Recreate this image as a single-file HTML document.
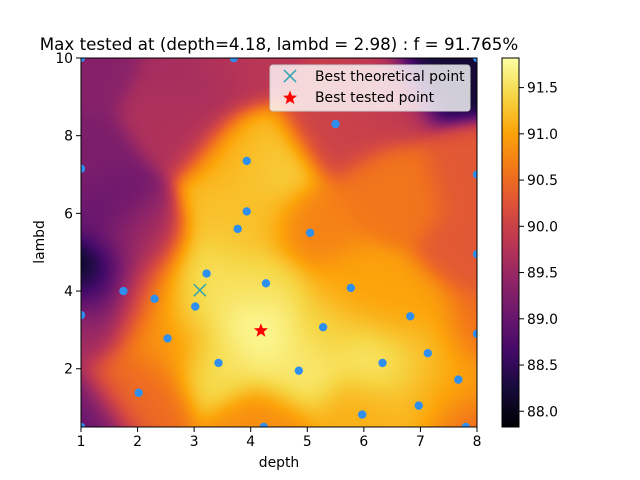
<!DOCTYPE html>
<html><head><meta charset="utf-8"><style>
body{margin:0;background:#fff;font-family:"DejaVu Sans","Liberation Sans",sans-serif}
#wrap{position:relative;width:640px;height:480px}
</style></head><body>
<div id="wrap">
<canvas id="heat" width="396" height="369" style="position:absolute;left:81px;top:58px"></canvas>
<canvas id="cbar" width="17" height="369" style="position:absolute;left:502px;top:58px"></canvas>
<svg id="svg" width="640" height="480" style="position:absolute;left:0;top:0" font-family="DejaVu Sans, Liberation Sans, sans-serif"></svg>
</div>
<script>
const ptsDepth=[1,3.7,5.5,3.93,1,8,3.93,3.77,5.05,8,3.22,1.75,4.27,5.77,2.3,3.02,1,6.82,5.28,2.53,8,3.43,6.33,7.13,4.85,7.67,2.02,6.97,5.97,4.23,7.8,1,8];
const ptsLambd=[10,10,8.3,7.35,7.15,7,6.05,5.6,5.5,4.95,4.45,4.0,4.2,4.08,3.8,3.6,3.38,3.35,3.07,2.78,2.9,2.15,2.15,2.4,1.95,1.72,1.38,1.05,0.82,0.5,0.5,0.5,10];
const ptsF=[89.3,89.8,90.0,91.0,89.2,90.3,91.2,91.3,90.7,90.3,91.5,89.5,91.5,91.0,91.0,91.6,89.6,91.0,91.4,90.8,90.5,91.5,91.6,91.3,91.6,91.0,90.5,91.2,91.1,90.8,90.5,89.0,88.2];
const anchorDepth=[1.2,4.2,7.5,4.18,1.4,2.8,6.5,3.0,6.3,2.0];
const anchorLambd=[4.3,7.2,9.8,2.98,6.0,8.5,6.5,9.5,9.0,5.2];
const anchorF=[87.6,91.5,88.2,91.8,89.0,89.7,90.6,89.6,89.9,89.6];
const best=[4.18,2.98], theo=[3.1,4.02];
const xTicks=[1,2,3,4,5,6,7,8], yTicks=[2,4,6,8,10], cTicks=[88.0,88.5,89.0,89.5,90.0,90.5,91.0,91.5];
const vmin=87.83, vmax=91.82;
const X0=81,X1=477,Y0=427,Y1=58;
const sx=d=>X0+(d-1)/7*(X1-X0), sy=l=>Y0-(l-0.5)/9.5*(Y0-Y1);
const stops=["#000004","#160b39","#420a68","#6a176e","#932667","#bc3754","#dd513a","#f37819","#fca50a","#f6d746","#fcffa4"].map(h=>[parseInt(h.substr(1,2),16),parseInt(h.substr(3,2),16),parseInt(h.substr(5,2),16)]);
function cmap(t){t=Math.max(0,Math.min(1,t))*10;const i=Math.min(9,Math.floor(t)),f=t-i;return stops[i].map((c,k)=>c+(stops[i+1][k]-c)*f);}
const nd=ptsDepth.concat(anchorDepth), nl=ptsLambd.concat(anchorLambd), nf=ptsF.concat(anchorF);
const hc=document.getElementById('heat').getContext('2d');
const img=hc.createImageData(396,369);
for(let py=0;py<369;py++)for(let px=0;px<396;px++){
 const d=1+px/395*7, l=10-py/368*9.5;
 let ws=0,vs=0;
 for(let i=0;i<nd.length;i++){const dx=(d-nd[i])/7,dy=(l-nl[i])/9.5;const r2=dx*dx+dy*dy;const w=Math.exp(-r2/0.008)+1e-9/(r2+1e-4);ws+=w;vs+=w*nf[i];}
 const c=cmap((vs/ws-vmin)/(vmax-vmin));const o=(py*396+px)*4;img.data[o]=c[0];img.data[o+1]=c[1];img.data[o+2]=c[2];img.data[o+3]=255;}
hc.putImageData(img,0,0);
const cc=document.getElementById('cbar').getContext('2d');
for(let y=0;y<369;y++){const c=cmap(1-y/368);cc.fillStyle=`rgb(${c[0]|0},${c[1]|0},${c[2]|0})`;cc.fillRect(0,y,17,1);}
const svg=document.getElementById('svg');const NS="http://www.w3.org/2000/svg";
function el(t,a,txt,parent){const e=document.createElementNS(NS,t);for(const k in a)e.setAttribute(k,a[k]);if(txt!==undefined&&txt!==null)e.textContent=txt;(parent||svg).appendChild(e);return e;}
let e;
const FS=13.9;
const defs=el('defs',{});
const cp=el('clipPath',{id:'pc'},null,defs);
el('rect',{x:X0,y:Y1,width:X1-X0,height:Y0-Y1},null,cp);
const g=el('g',{'clip-path':'url(#pc)'});
ptsDepth.forEach((d,i)=>{e=el('circle',{cx:sx(d),cy:sy(ptsLambd[i]),r:4.2,fill:'#2e8fef'},null,g);
 
 });
e=el('rect',{x:X0,y:Y1,width:X1-X0,height:Y0-Y1,fill:'none',stroke:'#000','stroke-width':1});


e=el('rect',{x:502,y:58,width:17,height:369,fill:'none',stroke:'#000','stroke-width':1});


xTicks.forEach(v=>{const x=sx(v);el('line',{x1:x,x2:x,y1:Y0,y2:Y0+5,stroke:'#000'});
 e=el('text',{x:x,y:Y0+19,'font-size':FS,'text-anchor':'middle'},String(v));
 
 });
yTicks.forEach(v=>{const y=sy(v);el('line',{x1:X0,x2:X0-5,y1:y,y2:y,stroke:'#000'});
 e=el('text',{x:X0-8,y:y+5,'font-size':FS,'text-anchor':'end'},String(v));
 
 });
cTicks.forEach(v=>{const y=427-(v-vmin)/(vmax-vmin)*369;el('line',{x1:519,x2:524,y1:y,y2:y,stroke:'#000'});
 e=el('text',{x:527,y:y+5,'font-size':FS},v.toFixed(1));
 
 });
function xm(x,y,s){el('line',{x1:x-s,y1:y-s,x2:x+s,y2:y+s,stroke:'#2aa4b0','stroke-width':1.5});el('line',{x1:x-s,y1:y+s,x2:x+s,y2:y-s,stroke:'#2aa4b0','stroke-width':1.5});}
function star(x,y,r){let p=[];for(let i=0;i<10;i++){const a=-Math.PI/2+i*Math.PI/5,rr=i%2?r*0.42:r;p.push((x+rr*Math.cos(a)).toFixed(1)+','+(y+rr*Math.sin(a)).toFixed(1));}return el('polygon',{points:p.join(' '),fill:'#f00'});}
xm(sx(theo[0]),sy(theo[1]),6);
e=star(sx(best[0]),sy(best[1]),7.5);


e=el('rect',{x:270,y:65,width:200,height:46,fill:'#fff','fill-opacity':0.8,stroke:'#ccc',rx:3});


xm(290,76,6);star(290,98,7.5);
e=el('text',{x:315,y:81,'font-size':FS},'Best theoretical point');


e=el('text',{x:315,y:102,'font-size':FS},'Best tested point');


e=el('text',{x:279,y:50,'font-size':16.7,'text-anchor':'middle'},'Max tested at (depth=4.18, lambd = 2.98) : f = 91.765%');


e=el('text',{x:279,y:467,'font-size':FS,'text-anchor':'middle'},'depth');


e=el('text',{x:44,y:242,'font-size':FS,'text-anchor':'middle',transform:'rotate(-90 44 242)'},'lambd');


</script>
</body></html>
